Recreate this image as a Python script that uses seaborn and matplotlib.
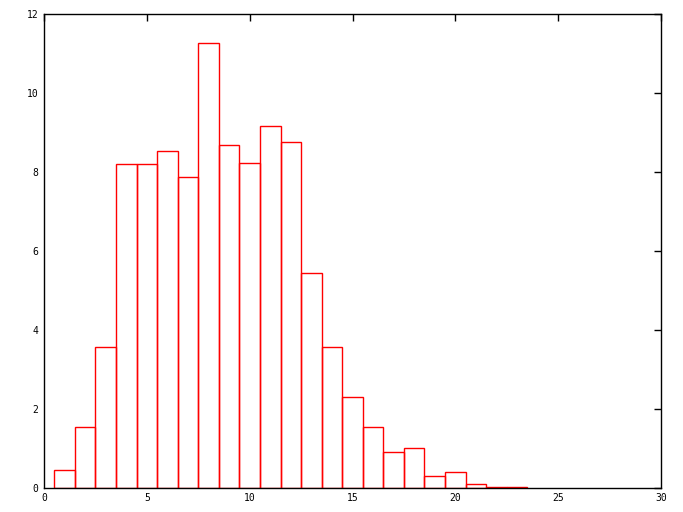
import numpy as np
import pandas as pd
import matplotlib
matplotlib.use("Agg")
import matplotlib.pyplot as plt
import seaborn as sns

centers = [1, 2, 3, 4, 5, 6, 7, 8, 9, 10, 11, 12, 13, 14, 15, 16, 17, 18, 19, 20, 21, 22, 23]
heights = [0.46, 1.55, 3.56, 8.19, 8.19, 8.54, 7.86, 11.27, 8.67, 8.22, 9.16, 8.76,
           5.43, 3.56, 2.31, 1.55, 0.90, 1.00, 0.30, 0.41, 0.085, 0.025, 0.025]
bin_edges = [c - 0.5 for c in centers] + [centers[-1] + 0.5]
xticks = [0, 5, 10, 15, 20, 25, 30]
yticks = [0, 2, 4, 6, 8, 10, 12]

df = pd.DataFrame({"x": centers, "h": heights})

sns.set_style("white")
plt.rcParams['font.family'] = ['DejaVu Sans Mono']

fig = plt.figure(figsize=(6.83, 5.12), dpi=100)
ax = fig.add_axes([44/683, 24.3/512, (661-44)/683, (487.7-14)/512])

sns.histplot(data=df, x="x", weights="h", bins=bin_edges, fill=False,
             color="#ff0000", linewidth=1.0, ax=ax, element="bars")

ax.set_xlim(0, 30)
ax.set_ylim(0, 12)
ax.set_xticks(xticks)
ax.set_yticks(yticks)
ax.set_xticklabels([str(t) for t in xticks])
ax.set_yticklabels([str(t) for t in yticks])
ax.set_xlabel("")
ax.set_ylabel("")
ax.tick_params(direction="in", length=5, width=1, colors="black",
               top=True, right=True, labelsize=7, pad=4)
for s in ax.spines.values():
    s.set_visible(True)
    s.set_color("black")
    s.set_linewidth(1)

fig.savefig("out.png", dpi=100)
